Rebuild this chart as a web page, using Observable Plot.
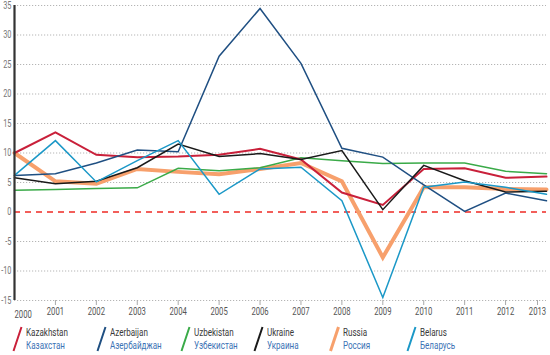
<!DOCTYPE html>
<html><head><meta charset="utf-8">
<script src="https://cdn.jsdelivr.net/npm/d3@7"></script>
<script src="https://cdn.jsdelivr.net/npm/@observablehq/plot@0.6"></script>
<style>
body{margin:0;background:#fff;font-family:Roboto,"Liberation Sans",sans-serif;}
#chart svg{display:block;font-family:Roboto,"Liberation Sans",sans-serif;}
#legend{position:relative;height:33px;}
.item{position:absolute;top:4px;display:flex;align-items:center;}
.item svg{display:block;margin-right:3px}
.txt{font-size:11.5px;line-height:13px;transform:scaleX(0.7);transform-origin:left center;white-space:nowrap}
.en{color:#3a3a3a}
.ru{color:#3b72b5}
</style></head><body>
<div id="chart"></div>
<div id="legend"></div>
<script>
const years = [2000,2001,2002,2003,2004,2005,2006,2007,2008,2009,2010,2011,2012,2013];
const countriesEn = ["Kazakhstan","Azerbaijan","Uzbekistan","Ukraine","Russia","Belarus"];
const countriesRu = ["Казахстан","Азербайджан","Узбекистан","Украина","Россия","Беларусь"];
const kazakhstan = [10.0,13.5,9.7,9.3,9.4,9.7,10.7,8.9,3.3,1.2,7.3,7.4,5.8,6.0];
const azerbaijan = [6.2,6.5,8.3,10.5,10.2,26.4,34.5,25.2,10.8,9.3,4.6,0.1,3.2,1.9];
const uzbekistan = [3.7,3.8,4.0,4.1,7.4,7.0,7.5,9.2,8.7,8.2,8.3,8.3,6.9,6.5];
const ukraine = [5.8,4.8,5.2,7.5,11.5,9.4,9.9,8.9,10.4,0.4,7.9,5.3,3.4,3.5];
const russia = [10.0,5.2,4.8,7.3,6.8,6.4,7.3,8.3,5.2,-7.7,4.2,4.2,3.9,3.8];
const belarus = [6.2,12.1,5.1,8.7,12.1,3.0,7.3,7.6,1.9,-14.5,4.2,5.1,4.2,3.0];
const yTicks = [-15,-10,-5,0,5,10,15,20,25,30,35];

const seriesValues = [kazakhstan,azerbaijan,uzbekistan,ukraine,russia,belarus];
const colors = ["#c9203a","#1f4f82","#3aaa48","#1a1a1a","#f7a06c","#1b98c7"];
const widths = [2,1.5,1.5,1.5,4,1.5];
const drawOrder = [4,2,0,1,3,5];

const lineMarks = drawOrder.map(i => {
  const rows = years.map((yr, j) => ({year: yr, value: seriesValues[i][j], country: countriesEn[i]}));
  return Plot.line(rows, {x: "year", y: "value", stroke: colors[i], strokeWidth: widths[i], strokeLinejoin: "miter", strokeMiterlimit: 10});
});

const midYears = years.slice(1, -1);
const lastYear = years[years.length - 1];
const chart = Plot.plot({
  width: 550,
  height: 322,
  marginLeft: 14,
  marginRight: 4,
  marginTop: 5,
  marginBottom: 22,
  style: {fontSize: "10.5px", background: "#fff"},
  x: {domain: [2000, 2013]},
  y: {domain: [-15, 35]},
  marks: [
    Plot.ruleY(yTicks.filter(d => d !== 0), {stroke: "#b5b5b5", strokeWidth: 1, strokeDasharray: "1.2,1.8"}),
    Plot.ruleY([0], {stroke: "#ee2a24", strokeWidth: 1.6, strokeDasharray: "6,5"}),
    ...lineMarks,
    Plot.ruleX([2000], {stroke: "#333", strokeWidth: 2.2}),
    Plot.axisY({ticks: yTicks, tickSize: 0, tickPadding: 3, tickFormat: d => String(d), fill: "#777", fontSize: 10.5, label: null}),
    Plot.axisX(midYears, {tickSize: 5, tickPadding: 2, tickFormat: d => String(d), stroke: "#aaa", fill: "#555", fontSize: 11, label: null}),
    Plot.axisX([lastYear], {tickSize: 5, tickPadding: 2, dx: -9, tickFormat: d => String(d), stroke: "#aaa", fill: "#555", fontSize: 11, label: null}),
    Plot.text([years[0]], {x: d => d, y: -15, dy: 14, textAnchor: "start", text: d => String(d), fill: "#555", fontSize: 11})
  ]
});
document.getElementById("chart").appendChild(chart);
// condense SVG text to mimic the narrow typeface
chart.querySelectorAll("text").forEach(t => {
  const len = t.getComputedTextLength();
  if (len > 0) {
    t.setAttribute("textLength", (len * 0.7).toFixed(2));
    t.setAttribute("lengthAdjust", "spacingAndGlyphs");
  }
});

const legendLeft = [12, 96, 180, 253, 329, 406];
const legend = document.getElementById("legend");
countriesEn.forEach((name, i) => {
  const item = document.createElement("div");
  item.className = "item";
  item.style.left = legendLeft[i] + "px";
  item.innerHTML = `<svg width="11" height="26"><line x1="1.5" y1="25" x2="9.5" y2="1" stroke="${colors[i]}" stroke-width="${i===4?3:2}"/></svg>` +
    `<div class="txt"><div class="en">${name}</div><div class="ru">${countriesRu[i]}</div></div>`;
  legend.appendChild(item);
});
</script>
</body></html>
